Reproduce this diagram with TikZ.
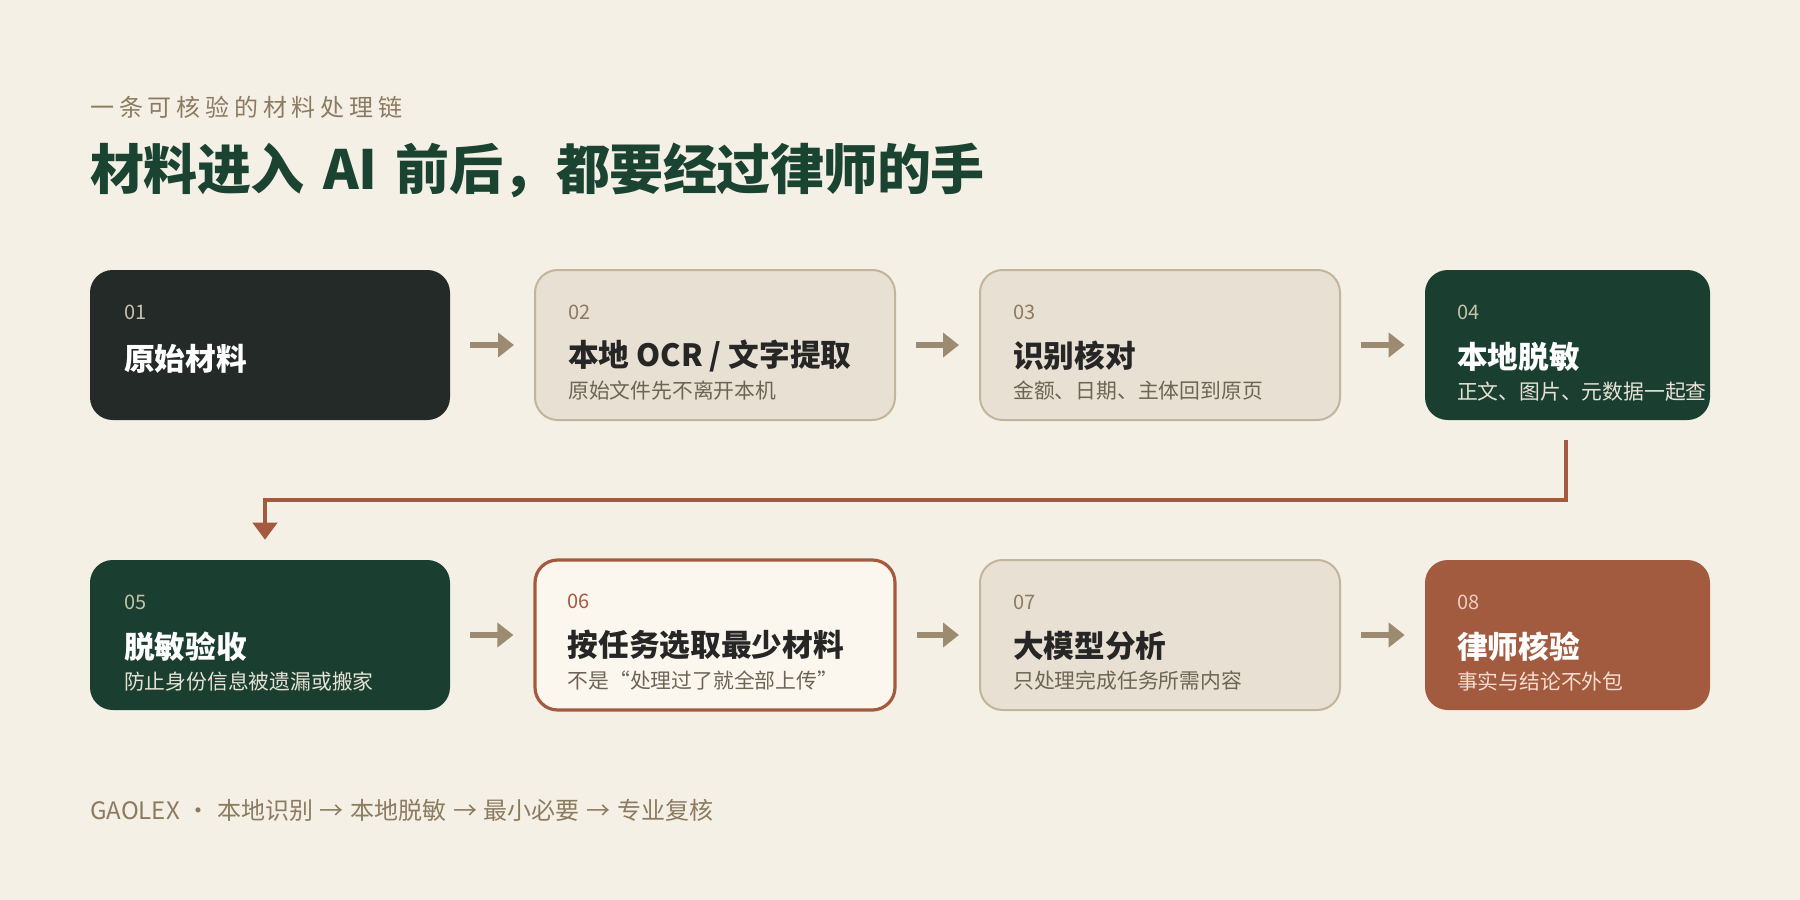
\documentclass[tikz,border=0pt]{standalone}
\usepackage{fontspec}
\setmainfont{Noto Sans CJK SC}
\newfontfamily\subfont[LetterSpace=20]{Noto Sans CJK SC}
\newfontfamily\headfont[LetterSpace=-1]{Noto Sans CJK SC}
\usetikzlibrary{calc,arrows.meta}
\definecolor{bg}{HTML}{F5F0E6}
\definecolor{headgreen}{HTML}{1B4332}
\definecolor{mutedbrown}{HTML}{8C7B60}
\definecolor{charcoal}{HTML}{242A27}
\definecolor{lightfill}{HTML}{E8E0D3}
\definecolor{lightline}{HTML}{C3B49C}
\definecolor{deepgreen}{HTML}{1A3F31}
\definecolor{rust}{HTML}{A35B40}
\definecolor{paper}{HTML}{FBF7EE}
\definecolor{arrowc}{HTML}{9C8B70}
\definecolor{inktext}{HTML}{262626}
\definecolor{greytext}{HTML}{6E6454}
\definecolor{numlight}{HTML}{C5C0B0}
\definecolor{numgreen}{HTML}{C2C2A8}
\definecolor{subgreen}{HTML}{E6E2D4}
\definecolor{numrust}{HTML}{F0CDBE}
\definecolor{subrust}{HTML}{F6DDD0}
\tikzset{
  box/.style={rectangle, rounded corners=17pt, minimum height=112.5pt, inner sep=0pt},
  wide/.style={box, minimum width=270pt},
  narrow/.style={box, minimum width=213.75pt},
  darkbox/.style={fill=charcoal, draw=none},
  lightbox/.style={fill=lightfill, draw=lightline, line width=1.5pt},
  greenbox/.style={fill=deepgreen, draw=none},
  focusbox/.style={fill=paper, draw=rust, line width=2.4pt},
  rustbox/.style={fill=rust, draw=none},
  txt/.style={inner sep=0pt, anchor=west},
  num/.style={txt, font=\fontsize{15pt}{18pt}\selectfont},
  ttl/.style={txt, font=\fontsize{23pt}{27pt}\selectfont\bfseries},
  sub/.style={txt, font=\fontsize{15.6pt}{18pt}\selectfont},
  flow/.style={draw=arrowc, line width=4.5pt, -{Triangle[length=12pt,width=18pt]}},
  turn/.style={draw=rust, line width=3pt, -{Triangle[length=12.75pt,width=18pt]}},
}
\newcommand{\gapx}{\hspace{5pt}}
\begin{document}
\begin{tikzpicture}[x=0.75pt,y=-0.75pt]
\fill[bg] (0,0) rectangle (1800,900);
\useasboundingbox (0,0) rectangle (1800,900);

% heading
\node[txt, text=mutedbrown, font=\fontsize{18pt}{21pt}\subfont] (kicker) at (90,107) {一条可核验的材料处理链};
\node[txt, text=headgreen, font=\fontsize{40.5pt}{48pt}\headfont\bfseries] (headline) at (90,170) {材料进入\hspace{14pt}AI\hspace{14pt}前后，都要经过律师的手};

% row 1
\node[wide, darkbox]  (b1) at (270,345) {};
\node[wide, lightbox] (b2) at (715,345) {};
\node[wide, lightbox] (b3) at (1160,345) {};
\node[narrow, greenbox] (b4) at (1567.5,345) {};
% row 2
\node[wide, greenbox] (b5) at (270,635) {};
\node[wide, focusbox] (b6) at (715,635) {};
\node[wide, lightbox] (b7) at (1160,635) {};
\node[narrow, rustbox] (b8) at (1567.5,635) {};

% box 1
\node[num, text=numlight] (n1) at ($(b1.north west)+(34,43)$) {01};
\node[ttl, text=white] (t1) at ($(b1.north west)+(34,89)$) {原始材料};
% box 2
\node[num, text=mutedbrown] (n2) at ($(b2.north west)+(34,43)$) {02};
\node[ttl, text=inktext] (t2) at ($(b2.north west)+(34,87)$) {本地 OCR / 文字提取};
\node[sub, text=greytext] (s2) at ($(b2.north west)+(34,122)$) {原始文件先不离开本机};
% box 3
\node[num, text=mutedbrown] (n3) at ($(b3.north west)+(34,43)$) {03};
\node[ttl, text=inktext] (t3) at ($(b3.north west)+(34,87)$) {识别核对};
\node[sub, text=greytext] (s3) at ($(b3.north west)+(34,122)$) {金额、日期、主体回到原页};
% box 4
\node[num, text=numgreen] (n4) at ($(b4.north west)+(32,43)$) {04};
\node[ttl, text=white] (t4) at ($(b4.north west)+(32,87)$) {本地脱敏};
\node[sub, text=subgreen] (s4) at ($(b4.north west)+(32,122)$) {正文、图片、元数据一起查};
% box 5
\node[num, text=numgreen] (n5) at ($(b5.north west)+(34,43)$) {05};
\node[ttl, text=white] (t5) at ($(b5.north west)+(34,87)$) {脱敏验收};
\node[sub, text=subgreen] (s5) at ($(b5.north west)+(34,122)$) {防止身份信息被遗漏或搬家};
% box 6
\node[num, text=rust] (n6) at ($(b6.north west)+(34,43)$) {06};
\node[ttl, text=inktext] (t6) at ($(b6.north west)+(34,87)$) {按任务选取最少材料};
\node[sub, text=greytext] (s6) at ($(b6.north west)+(34,122)$) {不是“处理过了就全部上传”};
% box 7
\node[num, text=mutedbrown] (n7) at ($(b7.north west)+(34,43)$) {07};
\node[ttl, text=inktext] (t7) at ($(b7.north west)+(34,87)$) {大模型分析};
\node[sub, text=greytext] (s7) at ($(b7.north west)+(34,122)$) {只处理完成任务所需内容};
% box 8
\node[num, text=numrust] (n8) at ($(b8.north west)+(32,43)$) {08};
\node[ttl, text=white] (t8) at ($(b8.north west)+(32,87)$) {律师核验};
\node[sub, text=subrust] (s8) at ($(b8.north west)+(32,122)$) {事实与结论不外包};

% connectors
\draw[flow] ($(b1.east)+(20,0)$) -- ($(b2.west)+(-20,0)$);
\draw[flow] ($(b2.east)+(20,0)$) -- ($(b3.west)+(-20,0)$);
\draw[flow] ($(b3.east)+(20,0)$) -- ($(b4.west)+(-20,0)$);
\draw[flow] ($(b5.east)+(20,0)$) -- ($(b6.west)+(-20,0)$);
\draw[flow] ($(b6.east)+(20,0)$) -- ($(b7.west)+(-20,0)$);
\draw[flow] ($(b7.east)+(20,0)$) -- ($(b8.west)+(-20,0)$);
\coordinate (turnstart) at ($(b4.south)+(-2,20)$);
\coordinate (turnend) at ($(b5.north)+(-5,-20)$);
\draw[turn] (turnstart) -- ++(0,60) -| (turnend);

% footer
\node[txt, text=mutedbrown, font=\fontsize{18pt}{21pt}\selectfont] (footer) at (90,810) {GAOLEX{\gapx}·{\gapx}本地识别{\gapx}→{\gapx}本地脱敏{\gapx}→{\gapx}最小必要{\gapx}→{\gapx}专业复核};
\end{tikzpicture}
\end{document}
